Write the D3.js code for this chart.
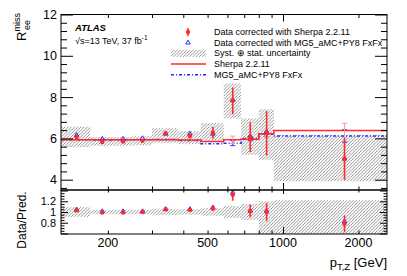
<!DOCTYPE html>
<html><head><meta charset="utf-8">
<script src="https://cdn.jsdelivr.net/npm/d3@7"></script>
<style>body{margin:0;background:#fff}svg{display:block;font-family:"Liberation Sans",Arial,Helvetica,sans-serif}</style>
</head><body><svg id="c" width="407" height="276"></svg>
<script>
// ---- data ----
const binEdges   = [130,170,210,250,300,380,470,580,680,800,920,2600];
const binCenters = [150,190,230,275,340,425,525,630,740,860,1760];
const dataSherpa    = [6.07,5.82,5.85,5.88,6.25,6.12,6.27,7.82,6.06,6.25,5.00];
const dataSherpaErr = [0.08,0.06,0.06,0.06,0.10,0.12,0.28,0.65,0.72,1.08,1.00];
const dataMG5       = [6.15,5.97,5.97,6.00,6.22,6.22,6.22,7.85,6.10,6.32,5.02];
const uncLow  = [5.58,5.64,5.64,5.66,5.77,5.72,5.90,6.97,5.20,4.96,3.92];
const uncHigh = [6.57,6.06,6.06,6.10,6.49,6.35,6.75,8.66,6.97,7.41,6.17];
const predSherpa    = [5.93,5.93,5.93,5.93,5.93,5.92,5.85,5.93,5.96,6.22,6.38];
const predSherpaErr = [0.02,0.02,0.02,0.02,0.03,0.04,0.05,0.18,0.10,0.12,0.35];
const predMG5       = [5.93,5.92,5.93,5.93,5.94,5.90,5.74,5.77,6.00,6.20,6.12];
const predMG5Err    = [0.02,0.02,0.02,0.02,0.03,0.04,0.05,0.12,0.10,0.12,0.30];
const ratioSherpa    = [1.03,0.99,0.99,1.00,1.05,1.04,1.07,1.32,1.02,1.00,0.78];
const ratioSherpaErr = [0.015,0.01,0.01,0.01,0.02,0.02,0.05,0.11,0.12,0.17,0.16];
const ratioMG5       = [1.04,1.01,1.01,1.01,1.05,1.05,1.08,1.36,1.02,1.02,0.82];
const ratioLow  = [0.91,0.96,0.96,0.96,0.94,0.95,0.93,0.89,0.85,0.50,0.50];
const ratioHigh = [1.09,1.04,1.04,1.04,1.06,1.05,1.07,1.11,1.15,1.20,1.22];
const xLabelTicks = [200,500,1000,2000];
const yMainLabels = [4,6,8,10,12];
const yRatioLabels = [0.8,1,1.2];
const legendItems = ["Data corrected with Sherpa 2.2.11","Data corrected with MG5_aMC+PY8 FxFx","Syst. \u2295 stat. uncertainty","Sherpa 2.2.11","MG5_aMC+PY8 FxFx"];

// ---- layout ----
const L=61, R=387, T=14.5, M=190, B=234;
const svg=d3.select("#c");
const x=d3.scaleLog().domain([130,2600]).range([L,R]);
const y=d3.scaleLinear().domain([3.5,12]).range([M,T]);
const yr=d3.scaleLinear().domain([0.59,1.41]).range([B,M]);
const RED="#ff2a2a", BLUE="#2a2aff", PINK="#ff9a9a";

const defs=svg.append("defs");
const pat=defs.append("pattern").attr("id","hatch").attr("patternUnits","userSpaceOnUse").attr("width",3.2).attr("height",3.2);
pat.append("path").attr("d","M-1,1 L1,-1 M0,3.2 L3.2,0 M2.2,4.2 L4.2,2.2").attr("stroke","#6a6a6a").attr("stroke-width",0.7);
defs.append("clipPath").attr("id","cm").append("rect").attr("x",L).attr("y",T).attr("width",R-L).attr("height",M-T);
defs.append("clipPath").attr("id","cr").append("rect").attr("x",L).attr("y",M).attr("width",R-L).attr("height",B-M);

const idx=d3.range(binCenters.length);
// ---- main panel ----
const gm=svg.append("g").attr("clip-path","url(#cm)");
gm.selectAll("rect.unc").data(idx).join("rect")
  .attr("x",i=>x(binEdges[i])).attr("width",i=>x(binEdges[i+1])-x(binEdges[i]))
  .attr("y",i=>y(uncHigh[i])).attr("height",i=>y(uncLow[i])-y(uncHigh[i]))
  .attr("fill","url(#hatch)");
const stepLine=(vals)=>d3.line().curve(d3.curveStepAfter).x(d=>x(d[0])).y(d=>y(d[1]))(binEdges.map((e,i)=>[e,vals[Math.min(i,vals.length-1)]]));
function mcErr(g,vals,errs,col,dash){
  const gg=g.append("g").attr("stroke",col).attr("stroke-width",1).attr("fill","none");
  idx.forEach(i=>{
    const cx=x(binCenters[i]), y0=y(vals[i]-errs[i]), y1=y(vals[i]+errs[i]);
    if(y0-y1<3) return;
    gg.append("line").attr("x1",cx).attr("x2",cx).attr("y1",y0).attr("y2",y1).attr("stroke-dasharray",dash||null);
    gg.append("line").attr("x1",cx-2.5).attr("x2",cx+2.5).attr("y1",y0).attr("y2",y0);
    gg.append("line").attr("x1",cx-2.5).attr("x2",cx+2.5).attr("y1",y1).attr("y2",y1);
  });
}
gm.append("path").attr("d",stepLine(predMG5)).attr("fill","none").attr("stroke",BLUE).attr("stroke-width",1.5).attr("stroke-dasharray","3,2,1,2");
mcErr(gm,predMG5,predMG5Err,BLUE,"2,1");
gm.append("path").attr("d",stepLine(predSherpa)).attr("fill","none").attr("stroke",RED).attr("stroke-width",1.5);
mcErr(gm,predSherpa,predSherpaErr,PINK);
const tri=d3.symbol().type(d3.symbolTriangle).size(9);
gm.selectAll("path.mg").data(idx).join("path")
  .attr("transform",i=>`translate(${x(binCenters[i])},${y(dataMG5[i])})`).attr("d",tri())
  .attr("fill","none").attr("stroke",BLUE).attr("stroke-width",1);
gm.selectAll("line.err").data(idx).join("line")
  .attr("x1",i=>x(binCenters[i])).attr("x2",i=>x(binCenters[i]))
  .attr("y1",i=>y(dataSherpa[i]-dataSherpaErr[i])).attr("y2",i=>y(dataSherpa[i]+dataSherpaErr[i]))
  .attr("stroke",RED).attr("stroke-width",1.6);
gm.selectAll("circle.pt").data(idx).join("circle")
  .attr("cx",i=>x(binCenters[i])).attr("cy",i=>y(dataSherpa[i])).attr("r",2.2).attr("fill",RED);

// ---- ratio panel ----
const gr=svg.append("g").attr("clip-path","url(#cr)");
gr.selectAll("rect.unc").data(idx).join("rect")
  .attr("x",i=>x(binEdges[i])).attr("width",i=>x(binEdges[i+1])-x(binEdges[i]))
  .attr("y",i=>yr(ratioHigh[i])).attr("height",i=>yr(ratioLow[i])-yr(ratioHigh[i]))
  .attr("fill","url(#hatch)");
gr.selectAll("path.mg").data(idx).join("path")
  .attr("transform",i=>`translate(${x(binCenters[i])},${yr(ratioMG5[i])})`).attr("d",tri())
  .attr("fill","none").attr("stroke",BLUE).attr("stroke-width",1);
gr.selectAll("line.err").data(idx).join("line")
  .attr("x1",i=>x(binCenters[i])).attr("x2",i=>x(binCenters[i]))
  .attr("y1",i=>yr(ratioSherpa[i]-ratioSherpaErr[i])).attr("y2",i=>yr(ratioSherpa[i]+ratioSherpaErr[i]))
  .attr("stroke",RED).attr("stroke-width",1.6);
gr.selectAll("circle.pt").data(idx).join("circle")
  .attr("cx",i=>x(binCenters[i])).attr("cy",i=>yr(ratioSherpa[i])).attr("r",2.2).attr("fill",RED);

// ---- frames & axes ----
const ax=svg.append("g").attr("stroke","#000").attr("fill","none");
ax.append("rect").attr("x",L).attr("y",T).attr("width",R-L).attr("height",M-T).attr("stroke-width",1);
ax.append("rect").attr("x",L).attr("y",M).attr("width",R-L).attr("height",B-M).attr("stroke-width",1);
const noLab=()=>"";
function yTicks(scale,maj,minStep,lo,hi,majLen,minLen){
  const minors=d3.range(Math.ceil(lo/minStep-1e-6)*minStep,hi+1e-9,minStep).filter(v=>!maj.some(m=>Math.abs(m-v)<1e-6));
  [[maj,majLen],[minors,minLen]].forEach(([vals,len])=>{
    svg.append("g").attr("transform",`translate(${L},0)`).call(d3.axisRight(scale).tickValues(vals).tickSize(len).tickFormat(noLab)).call(g=>g.select(".domain").remove());
    svg.append("g").attr("transform",`translate(${R},0)`).call(d3.axisLeft(scale).tickValues(vals).tickSize(len).tickFormat(noLab)).call(g=>g.select(".domain").remove());
  });
}
yTicks(y,[4,6,8,10,12],0.4,3.6,12,12,6);
yTicks(yr,[0.6,0.8,1.0,1.2,1.4],0.05,0.6,1.4,7,3.5);
const xMinors=[200,300,400,500,600,700,800,900,2000];
function xTicks(yy,dir,majLen,minLen){
  const ctor=dir<0?d3.axisTop:d3.axisBottom;
  svg.append("g").attr("transform",`translate(0,${yy})`).call(ctor(x).tickValues(xMinors).tickSize(minLen).tickFormat(noLab)).call(g=>g.select(".domain").remove());
  svg.append("g").attr("transform",`translate(0,${yy})`).call(ctor(x).tickValues([1000]).tickSize(majLen).tickFormat(noLab)).call(g=>g.select(".domain").remove());
}
xTicks(T,1,7,3.5); xTicks(M,-1,7,3.5); xTicks(M,1,4,2.5); xTicks(B,-1,7,3.5);
svg.selectAll(".tick line").attr("stroke","#000").attr("stroke-width",1);

// labels
const lab=svg.append("g").attr("fill","#000");
lab.selectAll("text.ym").data(yMainLabels).join("text").attr("font-size",12.5).attr("x",57).attr("y",d=>y(d)).attr("dy","0.36em").attr("text-anchor","end").text(d=>d);
lab.selectAll("text.yr").data(yRatioLabels).join("text").attr("font-size",11).attr("x",56).attr("y",d=>yr(d)).attr("dy","0.36em").attr("text-anchor","end").text(d=>d);
lab.selectAll("text.x").data(xLabelTicks).join("text").attr("font-size",12.5).attr("x",d=>x(d)).attr("y",B+13).attr("text-anchor","middle").text(d=>d);

// axis titles
const xt=svg.append("text").attr("x",R).attr("y",267).attr("text-anchor","end").attr("font-size",13);
xt.append("tspan").text("p");
xt.append("tspan").attr("font-size",9.5).attr("dy",3).text("T,Z");
xt.append("tspan").attr("dy",-3).text(" [GeV]");
const yt=svg.append("text").attr("transform","translate(26,13) rotate(-90)").attr("text-anchor","end").attr("font-size",13);
yt.append("tspan").text("R");
yt.append("tspan").attr("font-size",9).attr("dy",-6).text("miss");
yt.append("tspan").attr("font-size",9).attr("dx",-17).attr("dy",10).text("ee");
svg.append("text").attr("transform","translate(26,220) rotate(-90)").attr("text-anchor","middle").attr("font-size",12).text("Data/Pred.");

// ATLAS label
svg.append("text").attr("x",75).attr("y",30.5).attr("font-size",9.5).attr("font-weight","bold").attr("font-style","italic").text("ATLAS");
const lt=svg.append("text").attr("x",75).attr("y",43.5).attr("font-size",9);
lt.append("tspan").text("\u221As=13 TeV, 37 fb");
lt.append("tspan").attr("font-size",6.5).attr("dy",-4).text("-1");

// legend
const legY=[32,42.7,53.3,64,74.7];
const lg=svg.append("g");
lg.selectAll("text").data(legendItems).join("text").attr("x",214).attr("y",(d,i)=>legY[i]).attr("dy","0.35em").attr("font-size",9).text(d=>d);
lg.append("line").attr("x1",188).attr("x2",188).attr("y1",legY[0]-4).attr("y2",legY[0]+4).attr("stroke",RED).attr("stroke-width",1.6);
lg.append("circle").attr("cx",188).attr("cy",legY[0]).attr("r",2.2).attr("fill",RED);
lg.append("path").attr("transform",`translate(188,${legY[1]})`).attr("d",tri()).attr("fill","none").attr("stroke",BLUE).attr("stroke-width",1);
lg.append("rect").attr("x",171).attr("y",legY[2]-3.5).attr("width",35).attr("height",7).attr("fill","url(#hatch)");
lg.append("line").attr("x1",171).attr("x2",206).attr("y1",legY[3]).attr("y2",legY[3]).attr("stroke",RED).attr("stroke-width",1.5);
lg.append("line").attr("x1",171).attr("x2",206).attr("y1",legY[4]).attr("y2",legY[4]).attr("stroke",BLUE).attr("stroke-width",1.5).attr("stroke-dasharray","3,2,1,2");
</script></body></html>
